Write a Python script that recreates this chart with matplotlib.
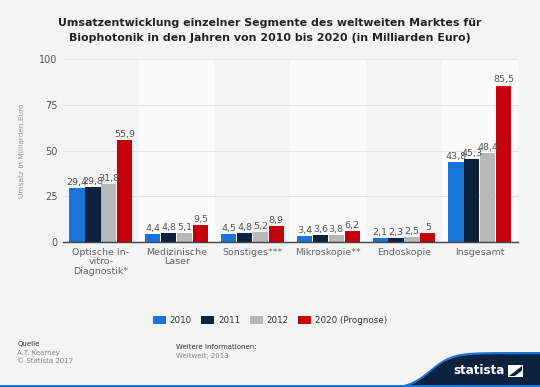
import matplotlib
matplotlib.use("Agg")
import matplotlib.pyplot as plt
import numpy as np
from matplotlib.patches import Polygon, Rectangle

categories = ["Optische In-\nvitro-\nDiagnostik*", "Medizinische\nLaser", "Sonstiges***",
              "Mikroskopie**", "Endoskopie", "Insgesamt"]
series_names = ["2010", "2011", "2012", "2020 (Prognose)"]
v2010 = [29.4, 4.4, 4.5, 3.4, 2.1, 43.8]
v2011 = [29.8, 4.8, 4.8, 3.6, 2.3, 45.3]
v2012 = [31.8, 5.1, 5.2, 3.8, 2.5, 48.4]
v2020 = [55.9, 9.5, 8.9, 6.2, 5.0, 85.5]
yticks = [0, 25, 50, 75, 100]

values = [v2010, v2011, v2012, v2020]
colors = ["#1874d8", "#0c2340", "#b8b8b8", "#c4000b"]
bg = "#f4f4f4"

fig = plt.figure(figsize=(5.4, 3.87), dpi=100, facecolor=bg)
ax = fig.add_axes([0.1167, 0.3747, 0.842, 0.4728])
ax.set_facecolor(bg)

n = len(categories)
x = np.arange(n)
for i in range(n):
    if i % 2 == 1:
        ax.axvspan(i - 0.5, i + 0.5, color="#fbfbfb", zorder=0, lw=0)

bw = 0.2
offsets = (np.arange(4) - 1.5) * 0.21
for k, (vals, c) in enumerate(zip(values, colors)):
    ax.bar(x + offsets[k], vals, bw, color=c, zorder=3, label=series_names[k])
    for xi, v in zip(x + offsets[k], vals):
        lab = ("%g" % v).replace(".", ",")
        ax.text(xi, v + 0.6, lab, ha="center", va="bottom", fontsize=6.8, color="#555555", zorder=4)

ax.set_xlim(-0.5, n - 0.5)
ax.set_ylim(0, 100)
ax.set_yticks(yticks)
ax.set_yticklabels([str(t) for t in yticks], fontsize=7, color="#555555")
ax.set_xticks(x)
ax.set_xticklabels(categories, fontsize=6.8, color="#666666", linespacing=1.1)
ax.tick_params(axis="both", length=0, pad=4)
ax.yaxis.grid(True, color="#e4e4e4", lw=0.8, zorder=1)
ax.set_axisbelow(True)
for s in ["top", "right", "left"]:
    ax.spines[s].set_visible(False)
ax.spines["bottom"].set_color("#444444")
ax.spines["bottom"].set_linewidth(1.0)
ax.spines["bottom"].set_zorder(5)
ax.set_ylabel("Umsatz in Milliarden Euro", fontsize=5.3, color="#999999", labelpad=10)

fig.text(0.5, 0.922, "Umsatzentwicklung einzelner Segmente des weltweiten Marktes für\nBiophotonik in den Jahren von 2010 bis 2020 (in Milliarden Euro)",
         ha="center", va="center", fontsize=7.9, fontweight="bold", color="#222222", linespacing=1.6)

leg = fig.legend(loc="center", bbox_to_anchor=(0.5, 0.172), ncol=4, frameon=False,
                 fontsize=6.3, handlelength=1.45, handleheight=1.0, columnspacing=1.1,
                 handletextpad=0.45)
for t in leg.get_texts():
    t.set_color("#333333")

fs = 5.0
fig.text(0.032, 0.105, "Quelle", fontsize=fs, color="#333333")
fig.text(0.032, 0.083, "A.T. Kearney", fontsize=fs, color="#888888")
fig.text(0.032, 0.061, "© Statista 2017", fontsize=fs, color="#888888")
fig.text(0.325, 0.098, "Weitere Informationen:", fontsize=fs, color="#333333")
fig.text(0.325, 0.076, "Weltweit; 2013", fontsize=fs, color="#888888")

# footer logo
fax = fig.add_axes([0, 0, 1, 1], facecolor="none")
fax.set_xlim(0, 540)
fax.set_ylim(387, 0)
fax.axis("off")
xs = np.linspace(370, 540, 80)
curve = 388 - (388 - 352) / (1 + np.exp(-(xs - 430) / 11))
top = list(zip(xs, curve))
fax.add_patch(Polygon([(370, 388)] + top + [(540, 388)], closed=True, color="#1874d8", lw=0))
fax.add_patch(Polygon([(370, 390)] + [(a, b + 2.2) for a, b in top] + [(540, 390)], closed=True, color="#0c2340", lw=0))
fax.add_patch(Rectangle((0, 385), 540, 2, color="#1874d8", lw=0))
fax.text(479, 371, "statista", ha="center", va="center", fontsize=8.6, fontweight="bold", color="white")
fax.add_patch(Rectangle((508, 365), 15, 12, color="white", lw=0))
fax.add_patch(Polygon([(509, 376), (522, 366), (522, 370.5), (515, 376)], closed=True, color="#0c2340", lw=0))

fig.savefig("out.png", dpi=100, facecolor=bg)
